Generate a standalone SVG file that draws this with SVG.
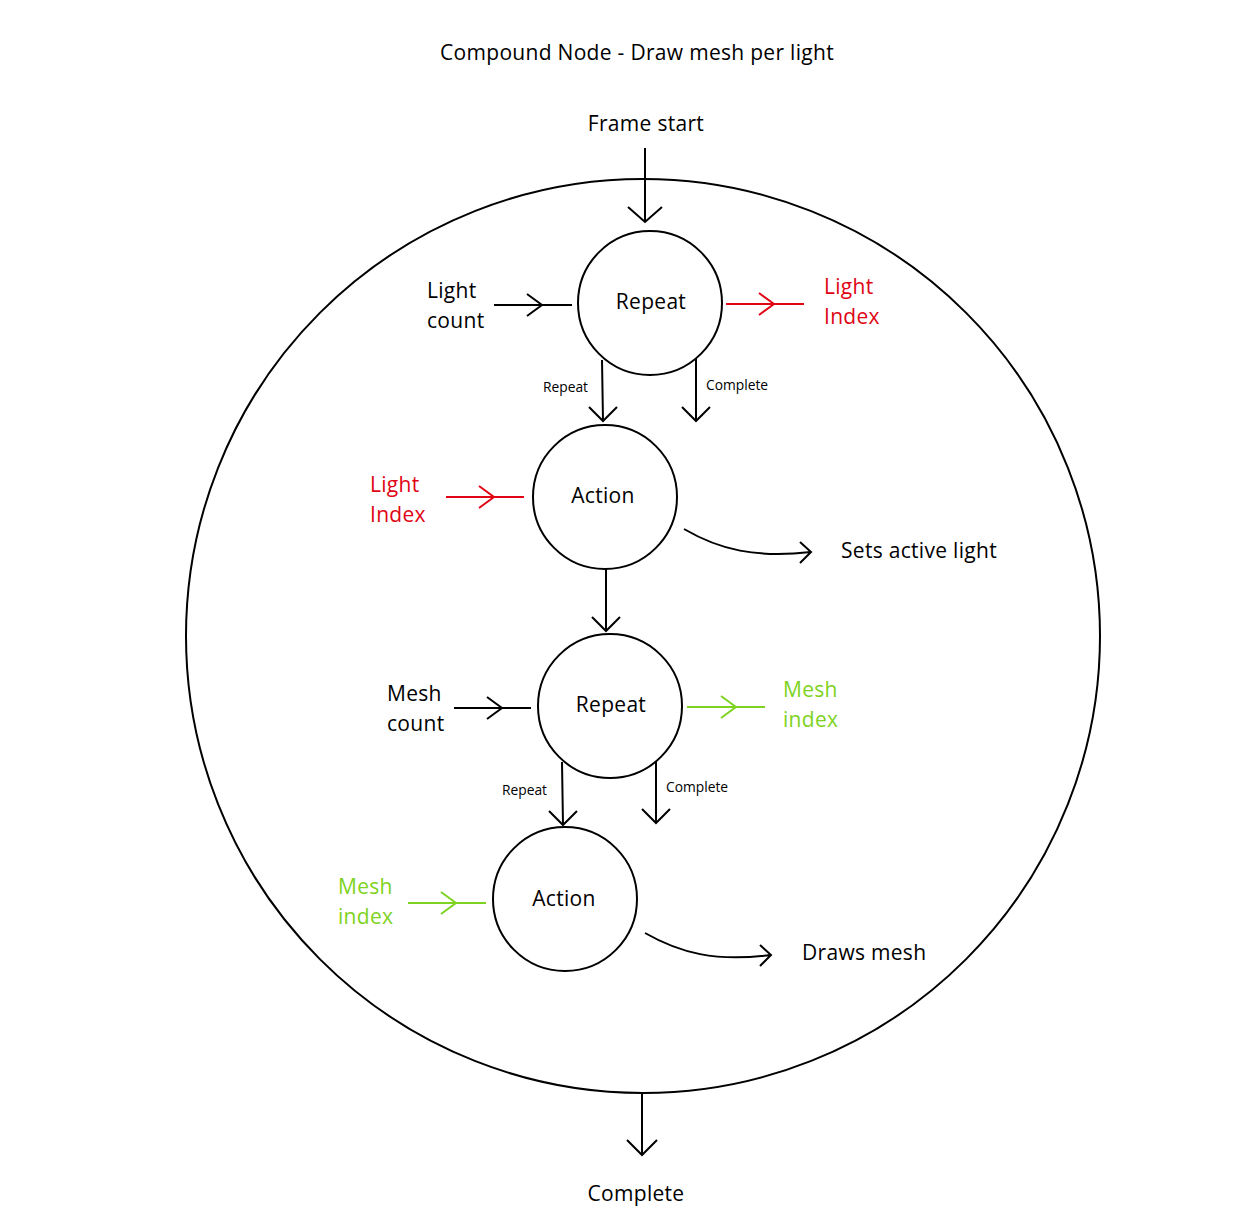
<svg xmlns="http://www.w3.org/2000/svg" width="1257" height="1213" viewBox="0 0 1257 1213">
<style>
text{font-family:"Open Sans","Noto Sans","Liberation Sans",sans-serif;fill:#000}
.t{font-size:21px;letter-spacing:0.3px}
.s{font-size:13.8px}
.c{text-anchor:middle}
.node{fill:#fff;stroke:#000;stroke-width:2}
.ln{fill:none;stroke:#000;stroke-width:2}
.red{stroke:#e00414}
.grn{stroke:#7ed321}
.rt{fill:#e00414}
.gt{fill:#7ed321}
</style>
<rect width="1257" height="1213" fill="#fff"/>
<text class="t c" x="637" y="60">Compound Node - Draw mesh per light</text>
<g id="compound">
<circle class="node" cx="643" cy="636" r="457"/>
</g>
<g id="frame-start"><text class="t c" x="646" y="131">Frame start</text></g>
<g id="complete-out"><text class="t c" x="636" y="1201">Complete</text></g>
<g id="repeat1">
<circle class="node" cx="650" cy="303" r="72"/>
<text class="t c" x="651" y="309">Repeat</text>
</g>
<g id="action1">
<circle class="node" cx="605" cy="497" r="72"/>
<text class="t c" x="603" y="503">Action</text>
</g>
<g id="repeat2">
<circle class="node" cx="610" cy="706" r="72"/>
<text class="t c" x="611" y="712">Repeat</text>
</g>
<g id="action2">
<circle class="node" cx="565" cy="899" r="72"/>
<text class="t c" x="564" y="906">Action</text>
</g>
<g id="labels">
<text class="t" x="427" y="298">Light</text>
<text class="t" x="427" y="328">count</text>
<text class="t rt" x="824" y="294">Light</text>
<text class="t rt" x="824" y="324">Index</text>
<text class="s" x="543" y="392">Repeat</text>
<text class="s" x="706" y="390">Complete</text>
<text class="t rt" x="370" y="492">Light</text>
<text class="t rt" x="370" y="522">Index</text>
<text class="t" x="841" y="558">Sets active light</text>
<text class="t" x="387" y="701">Mesh</text>
<text class="t" x="387" y="731">count</text>
<text class="t gt" x="783" y="697">Mesh</text>
<text class="t gt" x="783" y="727">index</text>
<text class="s" x="502" y="795">Repeat</text>
<text class="s" x="666" y="792">Complete</text>
<text class="t gt" x="338" y="894">Mesh</text>
<text class="t gt" x="338" y="924">index</text>
<text class="t" x="802" y="960">Draws mesh</text>
</g>
<g id="connectors">
<path class="ln" d="M645,148 V222 M628,207 L645,222 L662,207"/>
<path class="ln" d="M494,305 H572 M527,294 L542,305 L527,316"/>
<path class="ln red" d="M726,304 H804 M759,293 L774,304 L759,315"/>
<path class="ln" d="M602,360 L603,421 M589,407 L603,421 L617,407"/>
<path class="ln" d="M696,358 V421 M682,407 L696,421 L710,407"/>
<path class="ln red" d="M446,497 H524 M479,486 L494,497 L479,508"/>
<path class="ln" d="M684,529 C720,550 755,558 811,552 M800,542 L811,552 L800,563"/>
<path class="ln" d="M606,569 V631 M592,617 L606,631 L620,617"/>
<path class="ln" d="M454,708 H531 M487,697 L502,708 L487,719"/>
<path class="ln grn" d="M687,707 H765 M721,696 L736,707 L721,718"/>
<path class="ln" d="M562,762 L563,825 M549,811 L563,825 L577,811"/>
<path class="ln" d="M656,762 V823 M642,809 L656,823 L670,809"/>
<path class="ln grn" d="M408,903 H486 M441,892 L456,903 L441,914"/>
<path class="ln" d="M645,933 C680,953 715,962 771,955 M760,945 L771,955 L760,966"/>
<path class="ln" d="M642,1093 V1155 M627,1140 L642,1155 L657,1140"/>
</g>
</svg>
